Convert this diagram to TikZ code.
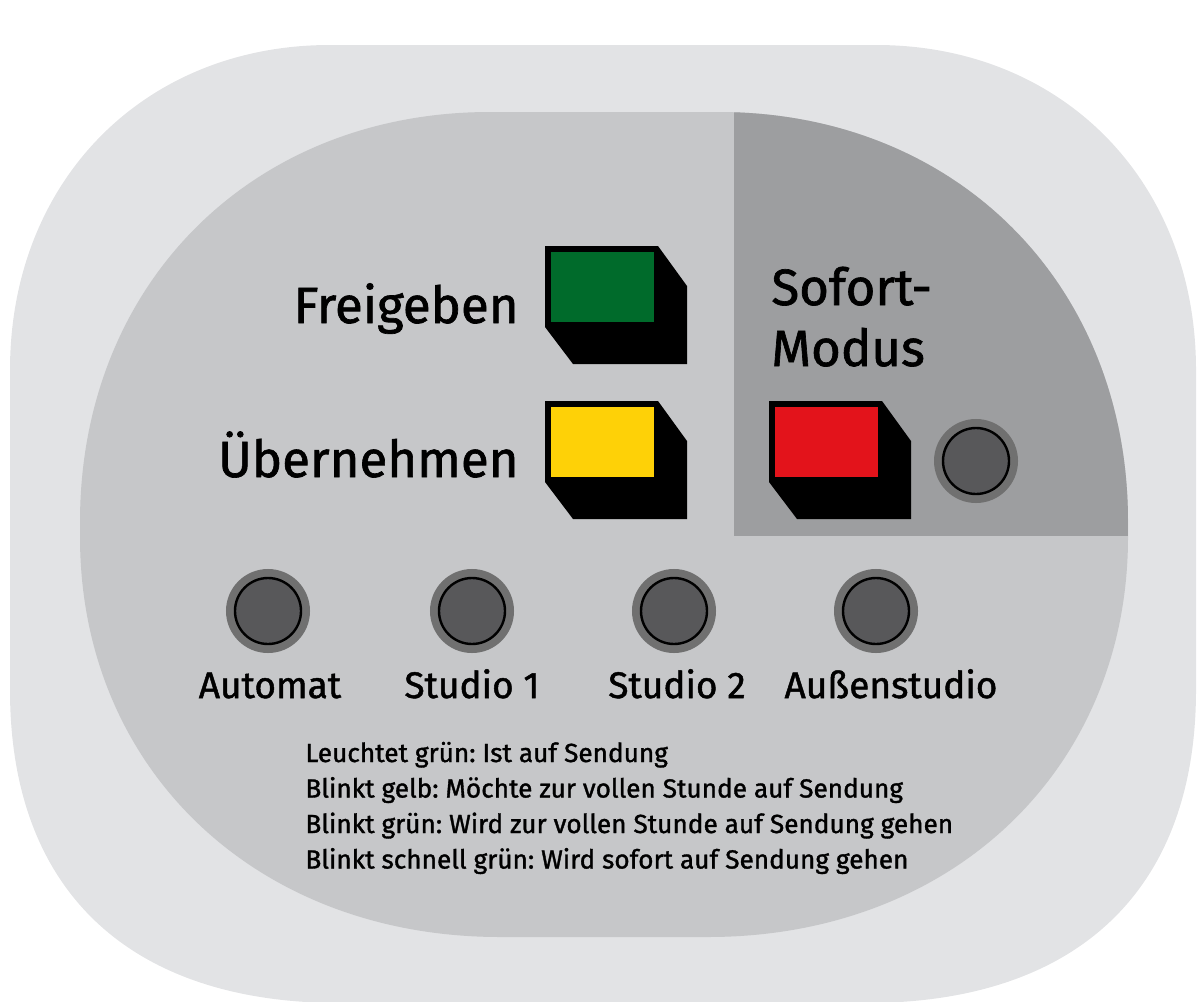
\documentclass[tikz,border=0pt]{standalone}
\usepackage{fontspec}
\setmainfont{Fira Sans}[FakeBold=1.3]
\usetikzlibrary{positioning}
\frenchspacing

\definecolor{casing}{HTML}{E2E3E5}
\definecolor{panel}{HTML}{C6C7C9}
\definecolor{sofortgrey}{HTML}{9D9EA0}
\definecolor{ledring}{HTML}{707070}
\definecolor{ledoff}{HTML}{58585A}
\definecolor{keygreen}{HTML}{006B2B}
\definecolor{keyyellow}{HTML}{FED107}
\definecolor{keyred}{HTML}{E3131B}

% inner panel outline, used twice (fill and clip)
\newcommand\panelshape{(80,522) .. controls (80,284) and (252,112) .. (490,112)
  -- (718,112) .. controls (956,112) and (1128,284) .. (1128,522)
  -- (1128,537) .. controls (1128,769) and (952,937) .. (708,937)
  -- (500,937) .. controls (256,937) and (80,769) .. (80,537) -- cycle}

\tikzset{
  keybody/.style={fill=black},
  led/.style={circle, fill=ledoff, draw=black, line width=1.2pt,
    minimum size=33pt, inner sep=0pt,
    preaction={draw=ledring, line width=9pt}},
  biglabel/.style={font=\fontsize{25.5}{31}\selectfont, inner sep=0pt},
  ledlabel/.style={font=\fontsize{18.5}{22}\selectfont, inner sep=0pt, anchor=base},
  legend/.style={font=\fontsize{13.1}{16}\selectfont, inner sep=0pt, anchor=base west}
}

\begin{document}
\begin{tikzpicture}[x=0.5pt,y=-0.5pt]
  \useasboundingbox (0,0) rectangle (1198,1001);

  % casing
  \fill[casing] (10,370) .. controls (10,181) and (144,45) .. (330,45)
    -- (876,45) .. controls (1062,45) and (1196,181) .. (1196,370)
    -- (1196,690) .. controls (1196,895) and (1072,1003) .. (866,1003)
    -- (340,1003) .. controls (134,1003) and (10,895) .. (10,690) -- cycle;

  % panel with the darker sofort corner
  \fill[panel] \panelshape;
  \begin{scope}
    \clip \panelshape;
    \fill[sofortgrey] (734,112) rectangle (1128,536);
  \end{scope}

  % keys
  \begin{scope}[shift={(545,246)}]
    \fill[keybody] (0,0) -- (113,0) -- (142,40) -- (142,118) -- (28,118) -- (0,81) -- cycle;
    \fill[keygreen] (6,6) rectangle (109,76);
  \end{scope}
  \begin{scope}[shift={(545,401)}]
    \fill[keybody] (0,0) -- (113,0) -- (142,40) -- (142,118) -- (28,118) -- (0,81) -- cycle;
    \fill[keyyellow] (6,6) rectangle (109,76);
  \end{scope}
  \begin{scope}[shift={(769,401)}]
    \fill[keybody] (0,0) -- (113,0) -- (142,40) -- (142,118) -- (28,118) -- (0,81) -- cycle;
    \fill[keyred] (6,6) rectangle (109,76);
  \end{scope}

  \node[biglabel, anchor=base east] (frei) at (519,323) {Freigeben};
  \node[biglabel, anchor=base east] (ueber) at (519,477) {Übernehmen};
  \node[biglabel, anchor=base west] (sofort) at (771,305) {Sofort-};
  \node[biglabel, anchor=base west] (modus) at (771,366) {Modus};

  % leds
  \node[led] (ledsofort) at (976,461) {};
  \node[led] (ledauto) at (268,611) {};
  \node[led] (ledstudioA) at (472,611) {};
  \node[led] (ledstudioB) at (674,611) {};
  \node[led] (ledaussen) at (876,611) {};

  \node[ledlabel] (auto) at (270,698) {Automat};
  \node[ledlabel] (studioA) at (472,698) {Studio 1};
  \node[ledlabel] (studioB) at (677,698) {Studio 2};
  \node[ledlabel] (aussen) at (891,698) {Außenstudio};

  % legend
  \node[legend] (lineA) at (305,762) {Leuchtet grün: Ist auf Sendung};
  \node[legend] (lineB) at (305,797.5) {Blinkt gelb: Möchte zur vollen Stunde auf Sendung};
  \node[legend] (lineC) at (305,833) {Blinkt grün: Wird zur vollen Stunde auf Sendung gehen};
  \node[legend] (lineD) at (305,868.5) {Blinkt schnell grün: Wird sofort auf Sendung gehen};
\end{tikzpicture}
\end{document}
